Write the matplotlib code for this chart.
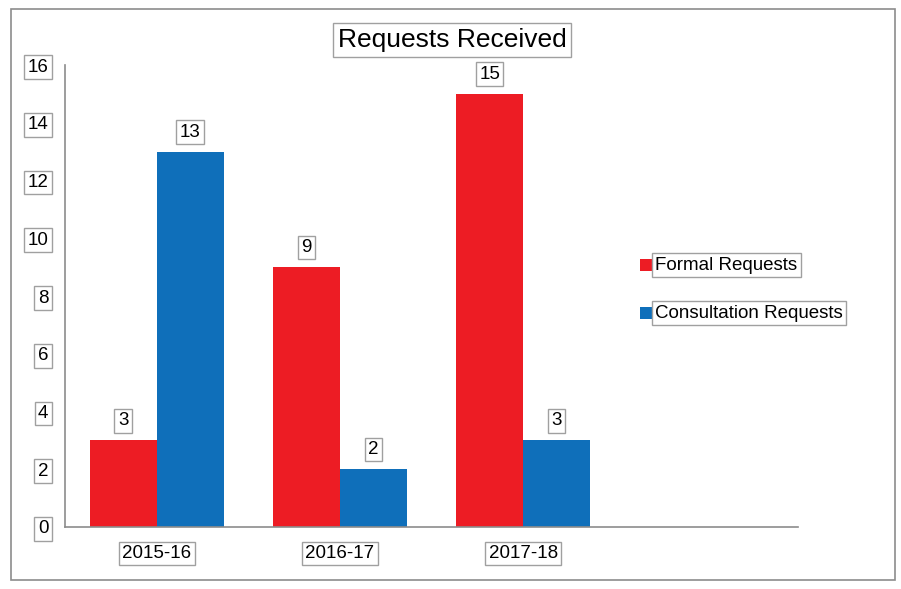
import matplotlib
matplotlib.use('Agg')
import matplotlib.pyplot as plt
import matplotlib.patches as patches
import numpy as np

plt.rcParams['font.family'] = ['Liberation Sans', 'DejaVu Sans']

years = ["2015-16", "2016-17", "2017-18"]
formal = [3, 9, 15]
consultation = [13, 2, 3]
series_names = ["Formal Requests", "Consultation Requests"]
colors = ["#ED1C24", "#0F6FBA"]
y_ticks = [0, 2, 4, 6, 8, 10, 12, 14, 16]

box = dict(boxstyle="square,pad=0.18", facecolor="white", edgecolor="#A0A0A0", linewidth=1)
fs = 13.5

fig = plt.figure(figsize=(9.01, 5.89), dpi=100)
ax = fig.add_axes([0.0721, 0.1053, 0.8136, 0.7843])

x = np.arange(len(years))
w = 0.366
bars1 = ax.bar(x - w / 2, formal, w, color=colors[0])
bars2 = ax.bar(x + w / 2, consultation, w, color=colors[1])

for bars in (bars1, bars2):
    ax.bar_label(bars, padding=8, fontsize=fs, bbox=box)

ax.set_xlim(-0.5, 3.5)
ax.set_ylim(0, 16)
ax.set_yticks(y_ticks)
ax.set_xticks(x)
ax.set_xticklabels(years)
ax.tick_params(length=0, labelsize=fs)
ax.tick_params(axis='y', pad=12)
ax.tick_params(axis='x', pad=13)
for lab in ax.get_yticklabels() + ax.get_xticklabels():
    lab.set_bbox(box)

for s in ("top", "right"):
    ax.spines[s].set_visible(False)
for s in ("left", "bottom"):
    ax.spines[s].set_color("#8C8C8C")
    ax.spines[s].set_linewidth(1.2)

fig.text(0.502, 0.932, "Requests Received", ha="center", va="center", fontsize=19, bbox=box)

# legend
leg_y = [1 - 265 / 589, 1 - 313 / 589]
for name, c, yy in zip(series_names, colors, leg_y):
    fig.patches.append(patches.Rectangle((640 / 901, yy - 6 / 589), 12 / 901, 12 / 589,
                                         transform=fig.transFigure, facecolor=c, edgecolor="none"))
    fig.text(655 / 901, yy, name, ha="left", va="center", fontsize=fs, bbox=box)

fig.patches.append(patches.Rectangle((11 / 901, 1 - 580 / 589), 884 / 901, 571 / 589,
                                     transform=fig.transFigure, fill=False, edgecolor="#8C8C8C", linewidth=1.2))

fig.savefig("out.png", dpi=100)
